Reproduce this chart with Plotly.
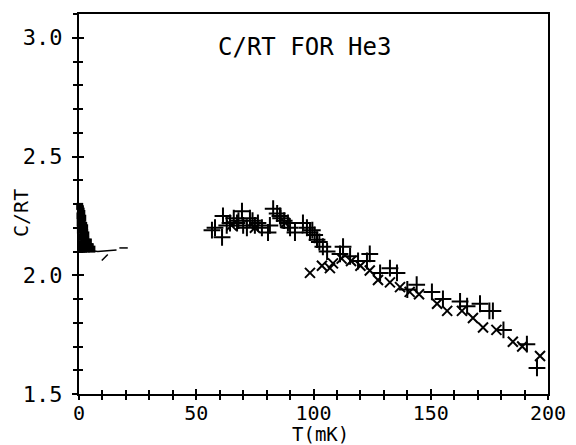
import plotly.graph_objects as go

# low temperature blob (T in mK, C/RT)
low_T = [0.3, 0.6, 0.9, 1.2, 0.4, 0.8, 1.2, 1.6, 0.5, 1.0, 1.5, 2.0, 2.4, 0.6, 1.2, 1.8,
         2.4, 2.9, 0.7, 1.4, 2.1, 2.8, 3.4, 4.0, 0.8, 1.6, 2.4, 3.2, 4.0, 4.8, 1.0, 2.0,
         3.0, 4.5, 5.5]
low_C = [2.29, 2.28, 2.27, 2.26, 2.25, 2.25, 2.24, 2.24, 2.22, 2.22, 2.21, 2.21, 2.20, 2.19,
         2.19, 2.18, 2.18, 2.17, 2.16, 2.16, 2.15, 2.15, 2.14, 2.14, 2.13, 2.13, 2.13, 2.12,
         2.12, 2.12, 2.11, 2.11, 2.11, 2.12, 2.11]
tail_T = [4, 8, 12, 16]
tail_C = [2.105, 2.100, 2.103, 2.106]
dash_T = [19]
dash_C = [2.115]
slash_T = [11]
slash_C = [2.075]

# "+" series
plus_T = [56.7, 58.0, 61.0, 61.4, 63.0, 64.4, 66.0, 67.4, 68.0, 69.5, 70.0, 71.6, 72.9, 74.0,
          75.0, 76.3, 78.0, 80.6, 81.4, 82.8, 84.5, 85.7, 86.0, 87.5, 89.1, 90.0, 92.1, 95.5,
          97.2, 98.5, 99.5, 100.5, 101.5, 102.5, 104.0, 105.8, 111.3, 112.6, 115.6, 119.0,
          122.8, 124.0, 128.4, 132.6, 135.6, 140.0, 144.0, 150.5, 155.2, 162.5, 165.5, 171.0,
          175.0, 176.5, 181.0, 191.0, 195.3]
plus_C = [2.19, 2.20, 2.16, 2.25, 2.21, 2.22, 2.24, 2.22, 2.23, 2.27, 2.21, 2.20, 2.24, 2.23,
          2.21, 2.22, 2.20, 2.18, 2.21, 2.28, 2.26, 2.25, 2.24, 2.23, 2.22, 2.20, 2.18, 2.22,
          2.20, 2.18, 2.19, 2.17, 2.15, 2.14, 2.12, 2.10, 2.09, 2.12, 2.08, 2.06, 2.06, 2.09,
          2.01, 2.03, 2.01, 1.94, 1.96, 1.93, 1.90, 1.89, 1.87, 1.88, 1.85, 1.85, 1.77, 1.71,
          1.61]

# "x" series
cross_T = [65.0, 75.0, 88.0, 98.5, 103.6, 107.0, 108.3, 112.0, 116.0, 120.0, 124.0, 127.5,
           132.6, 136.9, 141.0, 145.0, 152.7, 157.0, 163.3, 168.0, 172.3, 178.0, 185.0, 189.0,
           196.6]
cross_C = [2.21, 2.20, 2.22, 2.01, 2.04, 2.03, 2.05, 2.07, 2.06, 2.04, 2.02, 1.98, 1.97, 1.95,
           1.93, 1.92, 1.88, 1.85, 1.85, 1.82, 1.78, 1.77, 1.72, 1.70, 1.66]

FONT = "DejaVu Sans Mono"

fig = go.Figure()
fig.add_trace(go.Scatter(x=low_T, y=low_C, mode="markers", cliponaxis=False,
                         marker=dict(symbol="square", size=7, color="black")))
fig.add_trace(go.Scatter(x=tail_T, y=tail_C, mode="lines",
                         line=dict(color="black", width=1.5)))
fig.add_trace(go.Scatter(x=dash_T, y=dash_C, mode="markers",
                         marker=dict(symbol="line-ew", size=6, color="black",
                                     line=dict(color="black", width=1.5))))
fig.add_trace(go.Scatter(x=slash_T, y=slash_C, mode="markers",
                         marker=dict(symbol="line-ne", size=6, color="black",
                                     line=dict(color="black", width=1.5))))
fig.add_trace(go.Scatter(x=plus_T, y=plus_C, mode="markers",
                         marker=dict(symbol="cross-thin", size=12, color="black",
                                     line=dict(color="black", width=2))))
fig.add_trace(go.Scatter(x=cross_T, y=cross_C, mode="markers",
                         marker=dict(symbol="x-thin", size=10, color="black",
                                     line=dict(color="black", width=2))))
# dummy trace so the overlay axes (inner half of the crossing ticks) get drawn
fig.add_trace(go.Scatter(x=[], y=[], xaxis="x2", yaxis="y2", hoverinfo="skip"))

tick_common = dict(tickcolor="black", tickwidth=2, showgrid=False, zeroline=False,
                   automargin=False)

# page body has an 8px margin, so the figure is 8px smaller than the window
fig.update_layout(
    width=568, height=437,
    margin=dict(l=71, r=28, t=6, b=51),
    paper_bgcolor="white", plot_bgcolor="white",
    showlegend=False,
    font=dict(family=FONT, color="black"),
    xaxis=dict(range=[0, 200], tick0=0, dtick=50, ticks="outside", ticklen=4,
               ticklabelstandoff=-4,
               showline=True, linecolor="black", linewidth=2, mirror=True,
               tickfont=dict(family=FONT, size=20),
               minor=dict(dtick=10, ticks="outside", ticklen=4, tickcolor="black", tickwidth=2),
               **tick_common),
    yaxis=dict(range=[1.5, 3.1], tick0=1.5, dtick=0.5, tickformat=".1f",
               ticks="outside", ticklen=5, ticklabelstandoff=5,
               showline=True, linecolor="black", linewidth=2, mirror=True,
               tickfont=dict(family=FONT, size=22),
               minor=dict(dtick=0.1, ticks="outside", ticklen=4, tickcolor="black", tickwidth=2),
               **tick_common),
    xaxis2=dict(range=[0, 200], overlaying="x", anchor="y2", tick0=0, dtick=50,
                ticks="inside", ticklen=5, showticklabels=False, showline=False,
                minor=dict(dtick=10, ticks="inside", ticklen=4, tickcolor="black", tickwidth=2),
                **tick_common),
    yaxis2=dict(range=[1.5, 3.1], overlaying="y", anchor="x2", tick0=1.5, dtick=0.5,
                ticks="inside", ticklen=5, showticklabels=False, showline=False,
                minor=dict(dtick=0.1, ticks="inside", ticklen=4, tickcolor="black", tickwidth=2),
                **tick_common),
    annotations=[
        dict(text="T(mK)", x=0.514, y=-0.137, xref="paper", yref="paper", showarrow=False,
             xanchor="center", yanchor="bottom", borderpad=0,
             font=dict(family=FONT, size=19)),
        dict(text="C/RT FOR He3", x=96, y=2.96, xref="x", yref="y", showarrow=False,
             font=dict(family=FONT, size=24)),
        dict(text="C/RT", x=-0.124, y=0.476, xref="paper", yref="paper", showarrow=False,
             textangle=-90, xanchor="center", yanchor="middle",
             font=dict(family=FONT, size=20)),
    ],
)

fig.write_html("out.html")
